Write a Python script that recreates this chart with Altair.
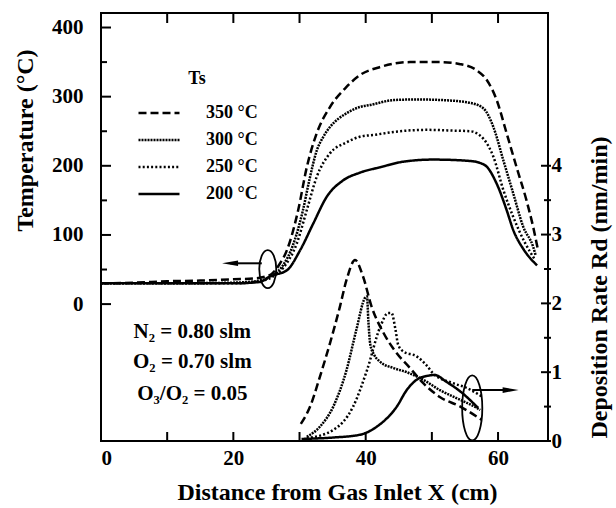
import altair as alt
import pandas as pd

FONT = "Liberation Serif"
SERIES = ["350 °C", "300 °C", "250 °C", "200 °C"]

# ---- Temperature profiles (°C) vs distance from gas inlet (cm) ----
T350_X = [0, 5, 10, 15, 20, 23, 25.5, 27, 28.1, 29.8, 31.1, 32.6, 34.6, 37.1, 39.1, 42.2, 46.7, 51.2, 54.3, 56.8, 58.3, 59.8, 61.3, 62.8, 64.3, 65.3, 66.0]
T350_Y = [30, 31, 33, 34, 36, 37, 42, 58, 78, 136, 198, 247, 285, 314, 331, 343, 350, 350, 347, 338, 324, 295, 247, 198, 150, 112, 80]
T300_X = [0, 10, 20, 24, 26, 27.5, 29, 30.5, 31.5, 32.6, 33.6, 34.6, 37.1, 39.1, 40.7, 44.2, 47.7, 51.7, 55.8, 57.8, 59.3, 60.8, 62.3, 63.8, 65.3, 65.7]
T300_Y = [30, 30, 31, 34, 42, 56, 85, 135, 180, 222, 242, 256, 276, 285, 288, 295, 296, 295, 291, 283, 256, 208, 160, 112, 83, 70]
T250_X = [0, 10, 20, 24, 26, 27.5, 29.6, 31.1, 32.6, 34.6, 37.1, 39.1, 41.5, 44.2, 49.2, 53, 55.8, 57.8, 59.3, 60.8, 62.3, 64, 65.6]
T250_Y = [30, 30, 30, 33, 40, 52, 88, 136, 184, 218, 234, 242, 245, 249, 252, 251, 250, 239, 213, 165, 126, 90, 64]
T200_X = [0, 10, 20, 24, 25.5, 28.1, 30.1, 32.1, 34.1, 36.6, 39.1, 42.2, 45.7, 50.2, 55.8, 58, 59.8, 61.3, 62.3, 63.8, 65.9]
T200_Y = [30, 30, 30, 32, 40, 49, 78, 117, 155, 179, 190, 198, 206, 209, 207, 201, 174, 136, 107, 80, 56]

# ---- Deposition rate (nm/min) vs distance (cm) ----
R350_X = [30.2, 31.6, 33.1, 34.6, 36.1, 37.1, 38.4, 39.6, 40.9, 42.7, 44.5, 46.7, 48.7, 51.2, 54.3, 57.5]
R350_Y = [0.25, 0.5, 0.94, 1.42, 1.95, 2.34, 2.63, 2.39, 1.95, 1.57, 1.3, 1.06, 0.84, 0.64, 0.5, 0.31]
R300_X = [31.1, 33.1, 35.1, 37.1, 38.6, 39.9, 40.2, 40.4, 40.7, 41.3, 42.2, 44.2, 46.2, 48.7, 51.2, 53.8, 56.8, 57.3]
R300_Y = [0.06, 0.21, 0.5, 1.03, 1.62, 2.08, 2.1, 1.75, 1.4, 1.25, 1.15, 1.06, 1.0, 0.89, 0.74, 0.62, 0.48, 0.45]
R250_X = [31.1, 35.1, 38.1, 40.2, 42.2, 43.4, 43.9, 44.5, 44.9, 45.7, 47.7, 49.2, 50.2, 53.2, 55.3, 57.5]
R250_Y = [0.04, 0.16, 0.5, 1.03, 1.66, 1.86, 1.86, 1.62, 1.4, 1.3, 1.23, 1.1, 0.98, 0.84, 0.77, 0.65]
R200_X = [30.3, 35, 39.1, 41.7, 44.7, 46.2, 47.7, 49.5, 50.4, 52.2, 54.3, 57.0]
R200_Y = [0.03, 0.05, 0.09, 0.21, 0.5, 0.74, 0.89, 0.95, 0.96, 0.86, 0.72, 0.48]

# ---- axes ----
X_LABELS = [0, 20, 40, 60]
X_TICKS = [10, 20, 30, 40, 50, 60]
T_LABELS = [0, 100, 200, 300, 400]
T_MINOR = [50, 150, 250, 350]
R_LABELS = [0, 1, 2, 3, 4]
R_MINOR = [0.5, 1.5, 2.5, 3.5]

NOTES = ["N₂ = 0.80 slm", "O₂ = 0.70 slm", "O₃/O₂ = 0.05"]
NOTE_T = [-40, -84, -130]
NOTE_X = [13.8, 13.8, 13.8]

W, H = 447, 428


def frame(xs, ys, col, name):
    return pd.DataFrame({"x": xs, col: ys, "Ts": name})


temp_df = pd.concat([frame(T350_X, T350_Y, "T", SERIES[0]), frame(T300_X, T300_Y, "T", SERIES[1]),
                     frame(T250_X, T250_Y, "T", SERIES[2]), frame(T200_X, T200_Y, "T", SERIES[3])])
rate_df = pd.concat([frame(R350_X, R350_Y, "R", SERIES[0]), frame(R300_X, R300_Y, "R", SERIES[1]),
                     frame(R250_X, R250_Y, "R", SERIES[2]), frame(R200_X, R200_Y, "R", SERIES[3])])

x_scale = alt.Scale(domain=[0, 67.55], nice=False, zero=False)
t_scale = alt.Scale(domain=[-198, 421], nice=False, zero=False)
r_scale = alt.Scale(domain=[0, 6.22], nice=False, zero=False)
dash_scale = alt.Scale(domain=SERIES, range=[[8, 4], [2, 1], [2, 2.2], [1, 0]])

common_axis = dict(ticks=False, tickSize=0, domain=False, grid=False, labelFont=FONT,
                   labelFontSize=21, labelFontWeight="bold", labelColor="black",
                   titleFont=FONT, titleFontSize=24, titleFontWeight="bold", titleColor="black",
                   titleBaseline="middle", titleAlign="center")

x_axis = alt.Axis(values=X_LABELS, labelPadding=6, title="Distance from Gas Inlet X (cm)",
                  titleX=236, titleY=51, format="d", **common_axis)
t_axis = alt.Axis(orient="left", values=T_LABELS, labelPadding=18, title="Temperature (°C)",
                  titleAngle=270, titleX=-76, titleY=127, format="d", **common_axis)
r_axis = alt.Axis(orient="right", values=R_LABELS, labelPadding=3, title="Deposition Rate Rd (nm/min)",
                  titleAngle=270, titleX=51, titleY=274, format="d", **common_axis)

legend = alt.Legend(title="Ts", orient="none", legendX=36, legendY=57, symbolType="stroke",
                    symbolSize=1681, symbolStrokeColor="black", symbolStrokeWidth=2.5,
                    clipHeight=18, rowPadding=9, padding=0, labelOffset=25,
                    labelFont=FONT, labelFontSize=18, labelFontWeight="bold", labelColor="black",
                    titleFont=FONT, titleFontSize=18, titleFontWeight="bold", titleColor="black",
                    titlePadding=16, titleAnchor="middle")

X = alt.X("x:Q", scale=x_scale, axis=x_axis)
YT = alt.Y("T:Q", scale=t_scale, axis=t_axis)
YR = alt.Y("R:Q", scale=r_scale, axis=r_axis)
DASH = alt.StrokeDash("Ts:N", scale=dash_scale, legend=legend)

temp_lines = alt.Chart(temp_df).mark_line(color="black", strokeWidth=2.5, interpolate="monotone").encode(
    x=X, y=YT, strokeDash=DASH)
rate_lines = alt.Chart(rate_df).mark_line(color="black", strokeWidth=2.5, interpolate="monotone").encode(
    x=X, y=YR, strokeDash=DASH)

# inward tick marks
top_ticks = alt.Chart(pd.DataFrame({"x": X_TICKS})).mark_rule(color="black", strokeWidth=2).encode(
    x=X, y=alt.value(0), y2=alt.value(10))
bottom_ticks = alt.Chart(pd.DataFrame({"x": X_TICKS})).mark_rule(color="black", strokeWidth=2).encode(
    x=X, y=alt.value(H), y2=alt.value(H - 9))
left_major = alt.Chart(pd.DataFrame({"T": T_LABELS})).mark_rule(color="black", strokeWidth=2).encode(
    y=YT, x=alt.value(0), x2=alt.value(10))
left_minor = alt.Chart(pd.DataFrame({"T": T_MINOR})).mark_rule(color="black", strokeWidth=2).encode(
    y=YT, x=alt.value(0), x2=alt.value(6))
right_major = alt.Chart(pd.DataFrame({"R": R_LABELS})).mark_rule(color="black", strokeWidth=2).encode(
    y=YR, x=alt.value(W - 7), x2=alt.value(W + 3))
right_minor = alt.Chart(pd.DataFrame({"R": R_MINOR})).mark_rule(color="black", strokeWidth=2).encode(
    y=YR, x=alt.value(W - 4), x2=alt.value(W + 3))

notes = alt.Chart(pd.DataFrame({"x": NOTE_X, "T": NOTE_T, "label": NOTES})).mark_text(
    font=FONT, fontSize=21, fontWeight="bold", color="black", align="center", baseline="middle").encode(
    x=X, y=YT, text="label:N")

ELL_L = "M -0.447,0 A 0.447,1 0 1 1 0.447,0 A 0.447,1 0 1 1 -0.447,0 Z"
ELL_R = "M -0.31,0 A 0.31,1 0 1 1 0.31,0 A 0.31,1 0 1 1 -0.31,0 Z"
HEAD_L = "M -1,0 L 1,-0.35 L 1,0.35 Z"
HEAD_R = "M 1,0 L -1,-0.35 L -1,0.35 Z"

ell_left = alt.Chart(pd.DataFrame({"x": [25.2], "T": [50.6]})).mark_point(
    shape=ELL_L, size=1444, filled=False, color="black", strokeWidth=1.8, opacity=1).encode(x=X, y=YT)
arrow_left = alt.Chart(pd.DataFrame({"x": [24.3], "x2": [19.5], "T": [59]})).mark_rule(
    color="black", strokeWidth=2).encode(x=X, x2="x2:Q", y=YT)
head_left = alt.Chart(pd.DataFrame({"x": [19.5], "T": [59]})).mark_point(
    shape=HEAD_L, size=256, filled=True, color="black", opacity=1).encode(x=X, y=YT)

ell_right = alt.Chart(pd.DataFrame({"x": [56.1], "R": [0.48]})).mark_point(
    shape=ELL_R, size=4225, filled=False, color="black", strokeWidth=1.8, opacity=1).encode(x=X, y=YR)
arrow_right = alt.Chart(pd.DataFrame({"x": [56.1], "x2": [61.8], "R": [0.74]})).mark_rule(
    color="black", strokeWidth=2).encode(x=X, x2="x2:Q", y=YR)
head_right = alt.Chart(pd.DataFrame({"x": [61.9], "R": [0.74]})).mark_point(
    shape=HEAD_R, size=256, filled=True, color="black", opacity=1).encode(x=X, y=YR)

layer_t = alt.layer(temp_lines, top_ticks, bottom_ticks, left_major, left_minor, notes,
                    ell_left, arrow_left, head_left)
layer_r = alt.layer(rate_lines, right_major, right_minor, ell_right, arrow_right, head_right)

chart = alt.layer(layer_t, layer_r).resolve_scale(y="independent").properties(
    width=W, height=H, autosize=alt.AutoSizeParams(type="none"),
    padding={"left": 101, "top": 13, "right": 68, "bottom": 67},
    background="white",
).configure_view(stroke="black", strokeWidth=2)

chart.save("out.html", embed_options={"renderer": "svg", "actions": False})
